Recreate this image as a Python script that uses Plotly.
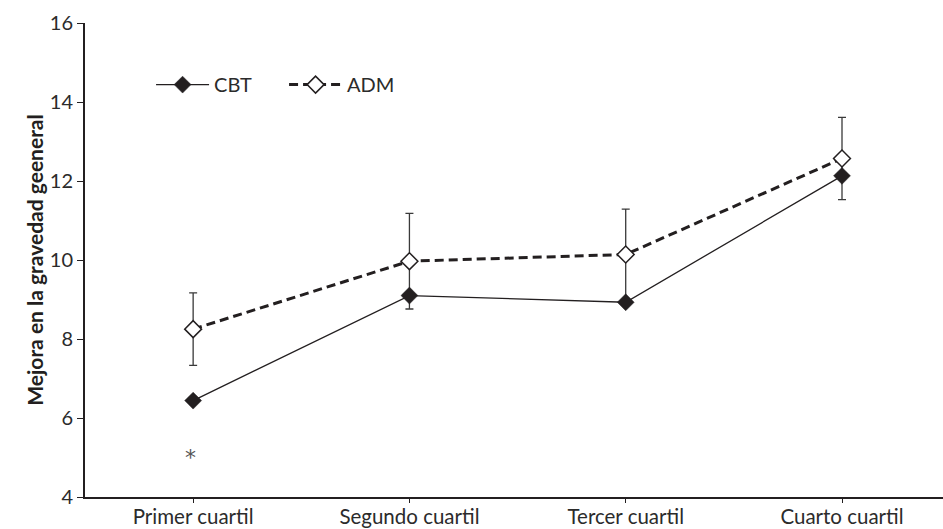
import plotly.graph_objects as go

# Cuartiles de gravedad inicial
categorias = ["Primer cuartil", "Segundo cuartil", "Tercer cuartil", "Cuarto cuartil"]
pos = [0, 1, 2, 3]

# Mejora media por grupo
cbt = [6.44, 9.10, 8.93, 12.13]
adm = [8.25, 9.97, 10.14, 12.57]
adm_err = [0.92, 1.21, 1.15, 1.04]

y_ticks = [4, 6, 8, 10, 12, 14, 16]

FONT = "Lato, 'Open Sans', sans-serif"
INK = "#231f20"
TXT = "#2b2b2b"

fig = go.Figure()

# ADM first so the CBT markers sit on top of its error bars
fig.add_trace(go.Scatter(
    x=pos, y=adm, name="ADM", mode="lines+markers",
    line=dict(color=INK, width=3, dash="9px,5px"),
    marker=dict(symbol="diamond", size=13, color="white",
                line=dict(color=INK, width=1.5)),
    error_y=dict(type="data", array=adm_err, symmetric=True,
                 color="#3a3a3a", thickness=1.3, width=4),
))
fig.add_trace(go.Scatter(
    x=pos, y=cbt, name="CBT", mode="lines+markers",
    line=dict(color=INK, width=1.3),
    marker=dict(symbol="diamond", size=13, color=INK,
                line=dict(color=INK, width=0.5)),
))

# Diferencia significativa en el primer cuartil
fig.add_annotation(x=0, y=5.15, text="*", showarrow=False, yshift=-6, xshift=-3,
                   font=dict(family="DejaVu Sans", size=22, color="#555"))

fig.update_layout(
    width=943, height=529,
    margin=dict(l=85, r=0, t=23, b=32),
    plot_bgcolor="white", paper_bgcolor="white",
    font=dict(family=FONT, color=TXT, size=20),
    showlegend=True,
    legend=dict(orientation="h", x=0.077, y=0.87, xanchor="left",
                yanchor="middle", traceorder="reversed",
                font=dict(family=FONT, size=20, color=TXT),
                itemwidth=53, entrywidth=65, bgcolor="rgba(0,0,0,0)"),
    xaxis=dict(
        range=[-0.5, 3.467], tickvals=pos, ticktext=categorias,
        showgrid=False, zeroline=False, showline=True, automargin=False,
        linecolor=INK, linewidth=2, ticks="outside", ticklen=4,
        ticklabelstandoff=-4,
        tickcolor=INK, tickwidth=1, tickfont=dict(size=20.5, color=TXT),
    ),
    yaxis=dict(
        range=[4, 16], tickvals=y_ticks, showgrid=False, zeroline=False,
        showline=True, automargin=False, linecolor=INK, linewidth=2,
        ticks="outside", ticklen=6, tickcolor=INK, tickwidth=1,
        tickfont=dict(size=20, color=TXT),
        title=dict(text="<b>Mejora en la gravedad geeneral</b>",
                   font=dict(size=21, color=INK), standoff=0),
    ),
)

fig.write_html("out.html")
